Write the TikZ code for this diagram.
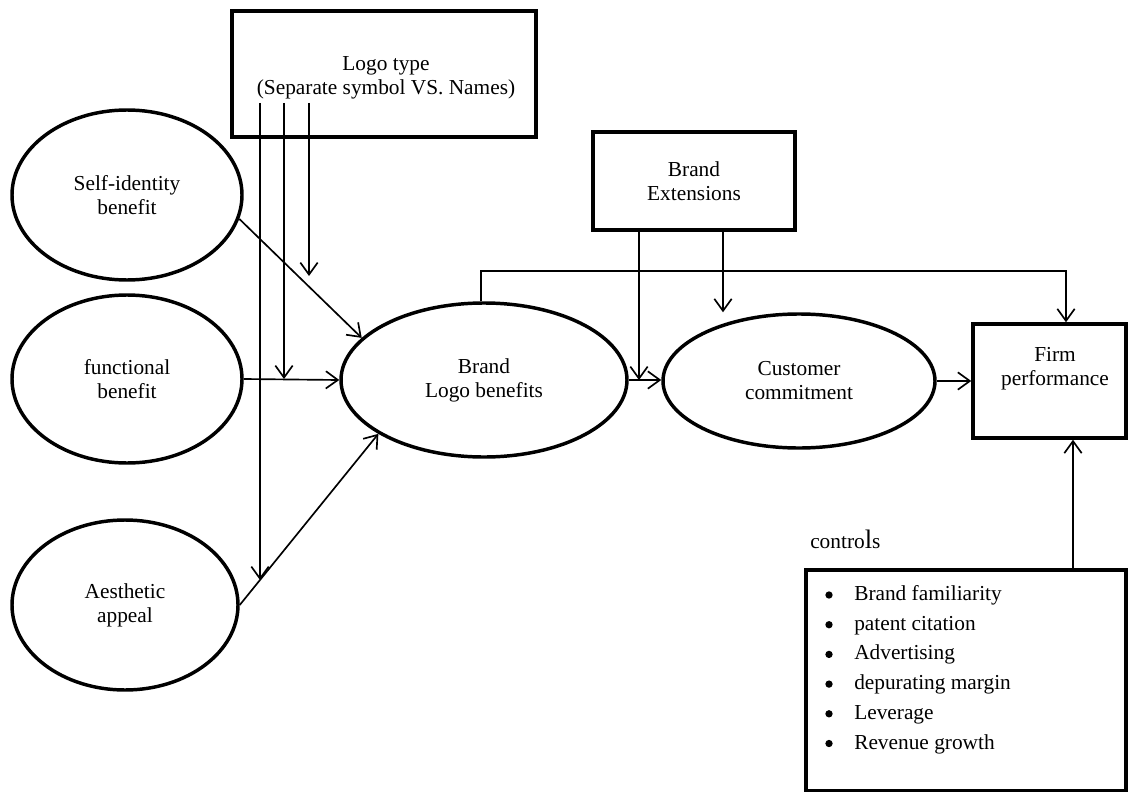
\documentclass[tikz,border=0pt]{standalone}
\usepackage{fontspec}
\setmainfont{Liberation Serif}
\usetikzlibrary{shapes.geometric,arrows.meta}
\begin{document}
\begin{tikzpicture}[x=0.75pt,y=-0.75pt,
  every node/.style={font=\fontsize{16}{18}\selectfont},
  ell/.style={draw,ellipse,line width=2.6pt,inner sep=0pt,align=center},
  boxn/.style={draw,rectangle,line width=2.6pt,inner sep=0pt},
  lbl/.style={align=center,inner sep=0pt},
  dot/.style={circle,fill,inner sep=0pt,minimum size=5.5pt},
  arr/.style={line width=1.25pt,-{Straight Barb[length=9pt,width=13pt,line width=1.25pt]}},
  ln/.style={line width=1.25pt}]
\useasboundingbox (0,0) rectangle (1128,792);

% ellipses
\node[ell,minimum width=172.5pt,minimum height=127.5pt] (sib) at (127,195) {Self-identity\\benefit};
\node[ell,minimum width=172.5pt,minimum height=126pt] (fb) at (127,379) {functional\\benefit};
\node[ell,minimum width=169.5pt,minimum height=127.5pt] (ae) at (125,605) {Aesthetic\\appeal};
\node[ell,minimum width=214.5pt,minimum height=115.5pt] (blb) at (484,380) {Brand\\Logo benefits};
\node[ell,minimum width=204pt,minimum height=100.5pt] (cc) at (799,381) {Customer\\commitment};

% boxes
\node[boxn,minimum width=228pt,minimum height=94.5pt] (logo) at (384,74) {};
\node[lbl] (logotxt) at (386,78) {Logo type\\(Separate symbol VS. Names)};
\node[boxn,minimum width=151.5pt,minimum height=73.5pt,align=center] (be) at (694,181) {Brand\\Extensions};
\node[boxn,minimum width=114.75pt,minimum height=85.5pt] (firm) at (1049.5,381) {};
\node[lbl] (firmtxt) at (1055,369) {Firm\\performance};

% controls
\node[anchor=base west,inner sep=0pt] (ctl) at (810,548) {contro{\fontsize{20}{20}\selectfont l}s};
\draw[line width=2.6pt] (806,570) rectangle (1126,791);
\coordinate (ctop) at (1073,570);
\foreach \t [count=\i] in {Brand familiarity,patent citation,Advertising,depurating margin,Leverage,Revenue growth}{
  \node[dot] (b\i) at (829,{595+29.7*(\i-1)}) {};
  \node[anchor=base west,inner sep=0pt] (t\i) at (854,{600.5+29.7*(\i-1)}) {\t};
}

% coordinates for moderator lines
\coordinate (l1s) at (260,103);
\coordinate (l2s) at (284,103);
\coordinate (l3s) at (309,103);
\coordinate (l1e) at (260,580);
\coordinate (l2e) at (284,379);
\coordinate (l3e) at (309,276);
\coordinate (topL) at (481,271);
\coordinate (topR) at (1066,271);
\coordinate (be1s) at (639,230);
\coordinate (be2s) at (723,230);

% connectors
\draw[arr] (sib.-12) -- (blb.161);
\draw[arr] (fb.east) -- (blb.west);
\draw[arr] (ae.east) -- (blb.207);
\draw[arr] (l1s) -- (l1e);
\draw[arr] (l2s) -- (l2e);
\draw[arr] (l3s) -- (l3e);
\draw[arr] (blb.east) -- (blb.east -| cc.west);
\draw[arr] (be1s) -- (be1s |- blb.east);
\draw[arr] (be2s) -- (be2s |- cc.north);
\draw[arr] (topL |- blb.north) -- (topL) -- (topR) -- (topR |- firm.north);
\draw[arr] (cc.east) -- (cc.east -| firm.west);
\draw[arr] (ctop) -- (ctop |- firm.south);
\end{tikzpicture}
\end{document}
